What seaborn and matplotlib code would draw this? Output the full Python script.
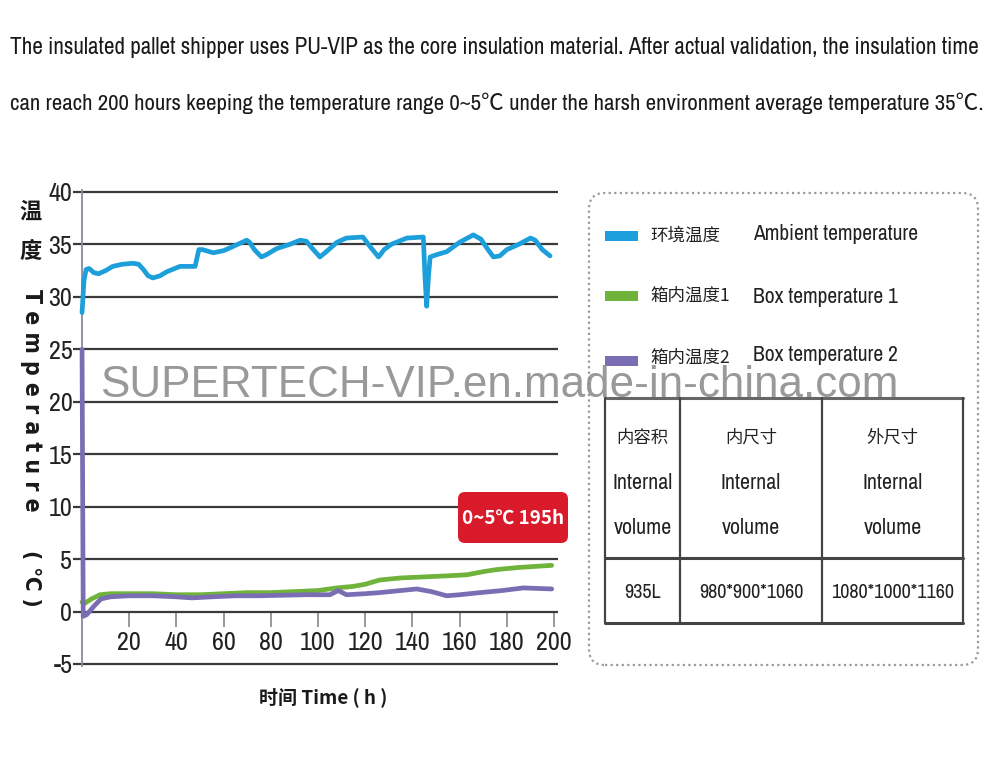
import numpy as np
import pandas as pd
import matplotlib
matplotlib.use("Agg")
import matplotlib.pyplot as plt
import matplotlib.font_manager as fm
import seaborn as sns
from matplotlib.patches import FancyBboxPatch, Rectangle
from matplotlib.lines import Line2D

# ---------------- data ----------------
time_ambient = [0, 0.8, 1.7, 3, 5, 7, 10, 13, 17, 21.6, 24, 26, 28, 30, 33, 36, 41.5, 47.9,
                48.5, 49.5, 51, 55.6, 60, 64, 69.8, 71, 73, 76, 78, 82.5, 88, 92.4, 95, 98,
                100.8, 104, 108, 112, 119, 122, 125.6, 128, 131, 137.6, 144.6, 145.3, 146,
                146.8, 147.5, 150, 154.5, 160, 165.8, 169, 172, 174.3, 177, 180, 185, 190,
                192, 195, 198.3]
temp_ambient = [28.5, 31.5, 32.6, 32.7, 32.3, 32.2, 32.5, 32.9, 33.1, 33.2, 33.1, 32.6, 32.0,
                31.8, 32.0, 32.4, 32.9, 32.9, 33.5, 34.5, 34.5, 34.2, 34.4, 34.8, 35.4, 35.2,
                34.5, 33.8, 34.0, 34.6, 35.0, 35.4, 35.3, 34.5, 33.8, 34.4, 35.2, 35.6, 35.7,
                34.8, 33.8, 34.5, 35.0, 35.6, 35.7, 32.0, 29.1, 32.0, 33.8, 34.0, 34.3, 35.2,
                35.9, 35.5, 34.5, 33.8, 33.9, 34.5, 35.0, 35.6, 35.4, 34.5, 33.9]

time_box1 = [0, 1.3, 4, 7.6, 12, 20, 30, 40, 50, 60, 70, 80, 90, 100, 108, 115, 120, 126,
             135, 145, 154.5, 163, 170, 175.7, 185, 192, 199]
temp_box1 = [0.9, 0.8, 1.2, 1.6, 1.7, 1.7, 1.7, 1.6, 1.6, 1.7, 1.8, 1.8, 1.9, 2.0, 2.25,
             2.4, 2.6, 3.0, 3.2, 3.3, 3.4, 3.5, 3.8, 4.0, 4.2, 4.3, 4.4]

time_box2 = [0, 0.5, 2, 5, 8, 12, 20, 30, 40, 46.5, 55, 65, 75, 85, 95, 105, 108.6, 112,
             120, 126, 135, 141.8, 148, 154.5, 160, 168.6, 178, 187, 193, 199]
temp_box2 = [25, -0.45, -0.3, 0.5, 1.2, 1.4, 1.5, 1.5, 1.4, 1.3, 1.4, 1.5, 1.5, 1.55, 1.6,
             1.6, 2.0, 1.6, 1.7, 1.8, 2.0, 2.15, 1.9, 1.5, 1.6, 1.8, 2.0, 2.25, 2.2, 2.15]

series_names = ["环境温度", "箱内温度1", "箱内温度2"]
series_en = ["Ambient temperature", "Box temperature 1", "Box temperature 2"]
series_colors = ["#1d9fdb", "#6fb33b", "#7a6db3"]

x_ticks = [20, 40, 60, 80, 100, 120, 140, 160, 180, 200]
y_ticks = [-5, 0, 5, 10, 15, 20, 25, 30, 35, 40]

title_lines = [
    "The insulated pallet shipper uses PU-VIP as the core insulation material. After actual validation, the insulation time",
    "can reach 200 hours keeping the temperature range 0~5\u2103 under the harsh environment average temperature 35\u2103.",
]
badge_text = "0~5\u2103 195h"
watermark = "SUPERTECH-VIP.en.made-in-china.com"

table_head_cn = ["内容积", "内尺寸", "外尺寸"]
table_head_en1 = ["Internal", "Internal", "Internal"]
table_head_en2 = ["volume", "volume", "volume"]
table_values = ["935L", "980*900*1060", "1080*1000*1160"]

# ---------------- fonts ----------------
sns.set_theme(style="white")
plt.rcParams["axes.unicode_minus"] = False


def _pick_narrow():
    good = []
    for f in fm.fontManager.ttflist:
        st = str(f.stretch)
        if ("Narrow" in f.name or "Condensed" in f.name
                or st in ("condensed", "semi-condensed", "extra-condensed", "ultra-condensed")):
            if f.style == "normal":
                good.append(f)
    if not good:
        return "Liberation Sans", "normal"
    good.sort(key=lambda f: (0 if "Narrow" in f.name else 1,
                             abs((f.weight if isinstance(f.weight, int) else 400) - 400)))
    return good[0].name, str(good[0].stretch)


NARROW, NSTRETCH = _pick_narrow()
CJK = "Noto Sans CJK SC"
plt.rcParams["font.family"] = [NARROW, CJK, "DejaVu Sans"]
plt.rcParams["font.stretch"] = NSTRETCH

W, H = 1000, 762
fig = plt.figure(figsize=(W / 100, H / 100), dpi=100)
fig.patch.set_facecolor("white")
T = fig.dpi_scale_trans
renderer = fig.canvas.get_renderer()


def P(x, y):
    return (x / 100, (H - y) / 100)


def fit(t, target):
    bb = t.get_window_extent(renderer)
    t.set_fontsize(t.get_fontsize() * target / bb.width)
    return t


def size_for(s, target, **kw):
    t = fig.text(0, 0, s, fontsize=20, **kw)
    bb = t.get_window_extent(renderer)
    t.remove()
    return 20 * target / bb.width


NKW = dict(fontfamily=[NARROW, CJK], fontstretch=NSTRETCH)

# ---------------- main chart ----------------
ax = fig.add_axes([0.0726, 0.1259, 0.485, 0.625])
ax.set_facecolor("white")

df = pd.concat([
    pd.DataFrame({"time": time_ambient, "temp": temp_ambient, "series": series_names[0]}),
    pd.DataFrame({"time": time_box1, "temp": temp_box1, "series": series_names[1]}),
    pd.DataFrame({"time": time_box2, "temp": temp_box2, "series": series_names[2]}),
], ignore_index=True)

sns.lineplot(data=df, x="time", y="temp", hue="series",
             hue_order=[series_names[0], series_names[1], series_names[2]],
             palette=dict(zip(series_names, series_colors)),
             estimator=None, sort=False, linewidth=3.4, legend=False, ax=ax, zorder=3)
for ln in ax.lines:
    ln.set_solid_capstyle("round")
    ln.set_solid_joinstyle("round")

tick_fs = size_for("200", 36, **NKW)

ax.set_xlim(-4, 201.5)
ax.set_ylim(-5.2, 40.2)
ax.set_xticks(x_ticks)
ax.set_yticks(y_ticks)
ax.set_xlabel("")
ax.set_ylabel("")
ax.yaxis.grid(True, color="#3a3a3a", linewidth=1.6)
ax.xaxis.grid(False)
for s in ["top", "right"]:
    ax.spines[s].set_visible(False)
ax.spines["bottom"].set_position(("data", 0))
ax.spines["bottom"].set_color("none")
ax.spines["left"].set_position(("data", 0))
ax.spines["left"].set_color("#8a8a9a")
ax.spines["left"].set_linewidth(1.3)
ax.tick_params(axis="x", direction="out", length=11, width=1.2, color="#888888",
               pad=3, labelsize=tick_fs, labelcolor="#222222", bottom=True)
ax.tick_params(axis="y", length=0, pad=7, labelsize=tick_fs, labelcolor="#222222", left=True)
for lbl in ax.get_xticklabels() + ax.get_yticklabels():
    lbl.set_fontfamily(NARROW)
    lbl.set_fontstretch(NSTRETCH)

# y label (vertical layout)
fig.text(31 / W, 1 - 212 / H, "温", fontfamily=CJK, fontweight="bold", fontsize=16,
         ha="center", va="center", color="#1a1a1a")
fig.text(31 / W, 1 - 252 / H, "度", fontfamily=CJK, fontweight="bold", fontsize=16,
         ha="center", va="center", color="#1a1a1a")
fig.text(31 / W, 1 - 400 / H, "T e m p e r a t u r e", fontfamily="DejaVu Sans",
         fontweight="bold", fontsize=16.5, rotation=-90, ha="center", va="center", color="#1a1a1a")
fig.text(31 / W, 1 - 578 / H, "( \u2103 )", fontfamily="DejaVu Sans",
         fontweight="bold", fontsize=16, rotation=-90, ha="center", va="center", color="#1a1a1a")

# x label
fit(fig.text(323 / W, 1 - 697 / H, "时间 Time ( h )", fontfamily=[CJK, "DejaVu Sans"],
             fontweight="bold", fontsize=16, ha="center", va="center", color="#1a1a1a"), 128)

# badge
fig.add_artist(FancyBboxPatch(P(458, 543), 1.10, 0.51, boxstyle="round,pad=0,rounding_size=0.07",
                              transform=T, facecolor="#d81a2b", edgecolor="none", zorder=5))
fit(fig.text(513 / W, 1 - 518 / H, badge_text, fontweight="bold", fontfamily=CJK,
             fontsize=17, color="white", ha="center", va="center", zorder=6), 102)

# ---------------- title ----------------
for i, line in enumerate(title_lines):
    t = fig.text(10 / W, 1 - (48 + 55 * i) / H, line, fontsize=16, ha="left",
                 va="center", color="#1a1a1a", **NKW)
    fit(t, 975)

# ---------------- legend box ----------------
fig.add_artist(FancyBboxPatch(P(589, 665), 3.89, 4.72, boxstyle="round,pad=0,rounding_size=0.16",
                              transform=T, facecolor="none", edgecolor="#9a9a9a",
                              linestyle=(0, (1, 1.5)), linewidth=1.6, zorder=2))
leg_y_patch = [236, 296, 361]
leg_y_cn = [236, 296, 358]
leg_y_en = [234, 297, 355]
cn_fs = size_for(series_names[0], 70, fontfamily=CJK)
en_fs = size_for(series_en[0], 166, **NKW)
for i in range(3):
    fig.add_artist(Rectangle(P(605, leg_y_patch[i] + 5), 0.33, 0.10, transform=T,
                             facecolor=series_colors[i], edgecolor="none"))
    fig.text(650 / W, 1 - leg_y_cn[i] / H, series_names[i], fontfamily=[CJK, NARROW],
             fontsize=cn_fs, ha="left", va="center", color="#222222")
    fig.text(753 / W, 1 - leg_y_en[i] / H, series_en[i], fontsize=en_fs, ha="left",
             va="center", color="#222222", **NKW)

# ---------------- table ----------------
tx = [605, 680, 822, 963]
ty = [398, 558, 623]
for j, yy in enumerate(ty):
    fig.add_artist(Line2D([tx[0] / 100, tx[-1] / 100], [(H - yy) / 100] * 2, transform=T,
                          color="#666666" if j == 0 else "#444444", linewidth=2.2))
for xx in tx:
    fig.add_artist(Line2D([xx / 100] * 2, [(H - ty[0]) / 100, (H - ty[-1]) / 100], transform=T,
                          color="#444444", linewidth=1.6))
col_c = [(tx[k] + tx[k + 1]) / 2 for k in range(3)]
head_cn_fs = size_for(table_head_cn[0], 52, fontfamily=CJK)
head_en_fs = size_for(table_head_en1[0], 60, **NKW)
val_fs = size_for(table_values[2], 124, **NKW)
for k in range(3):
    fig.text(col_c[k] / W, 1 - 438 / H, table_head_cn[k], fontfamily=CJK, fontsize=head_cn_fs,
             ha="center", va="center", color="#222222")
    fig.text(col_c[k] / W, 1 - 483 / H, table_head_en1[k], fontsize=head_en_fs,
             ha="center", va="center", color="#222222", **NKW)
    fig.text(col_c[k] / W, 1 - 528 / H, table_head_en2[k], fontsize=head_en_fs,
             ha="center", va="center", color="#222222", **NKW)
    fig.text(col_c[k] / W, 1 - 592 / H, table_values[k], fontsize=val_fs,
             ha="center", va="center", color="#222222", **NKW)

# ---------------- watermark ----------------
fit(fig.text(499 / W, 1 - 386 / H, watermark, fontfamily="Liberation Sans", fontsize=31,
             ha="center", va="center", color="#8e8e8e", alpha=0.9, zorder=10), 797)

fig.savefig("out.png", dpi=100, facecolor="white")
